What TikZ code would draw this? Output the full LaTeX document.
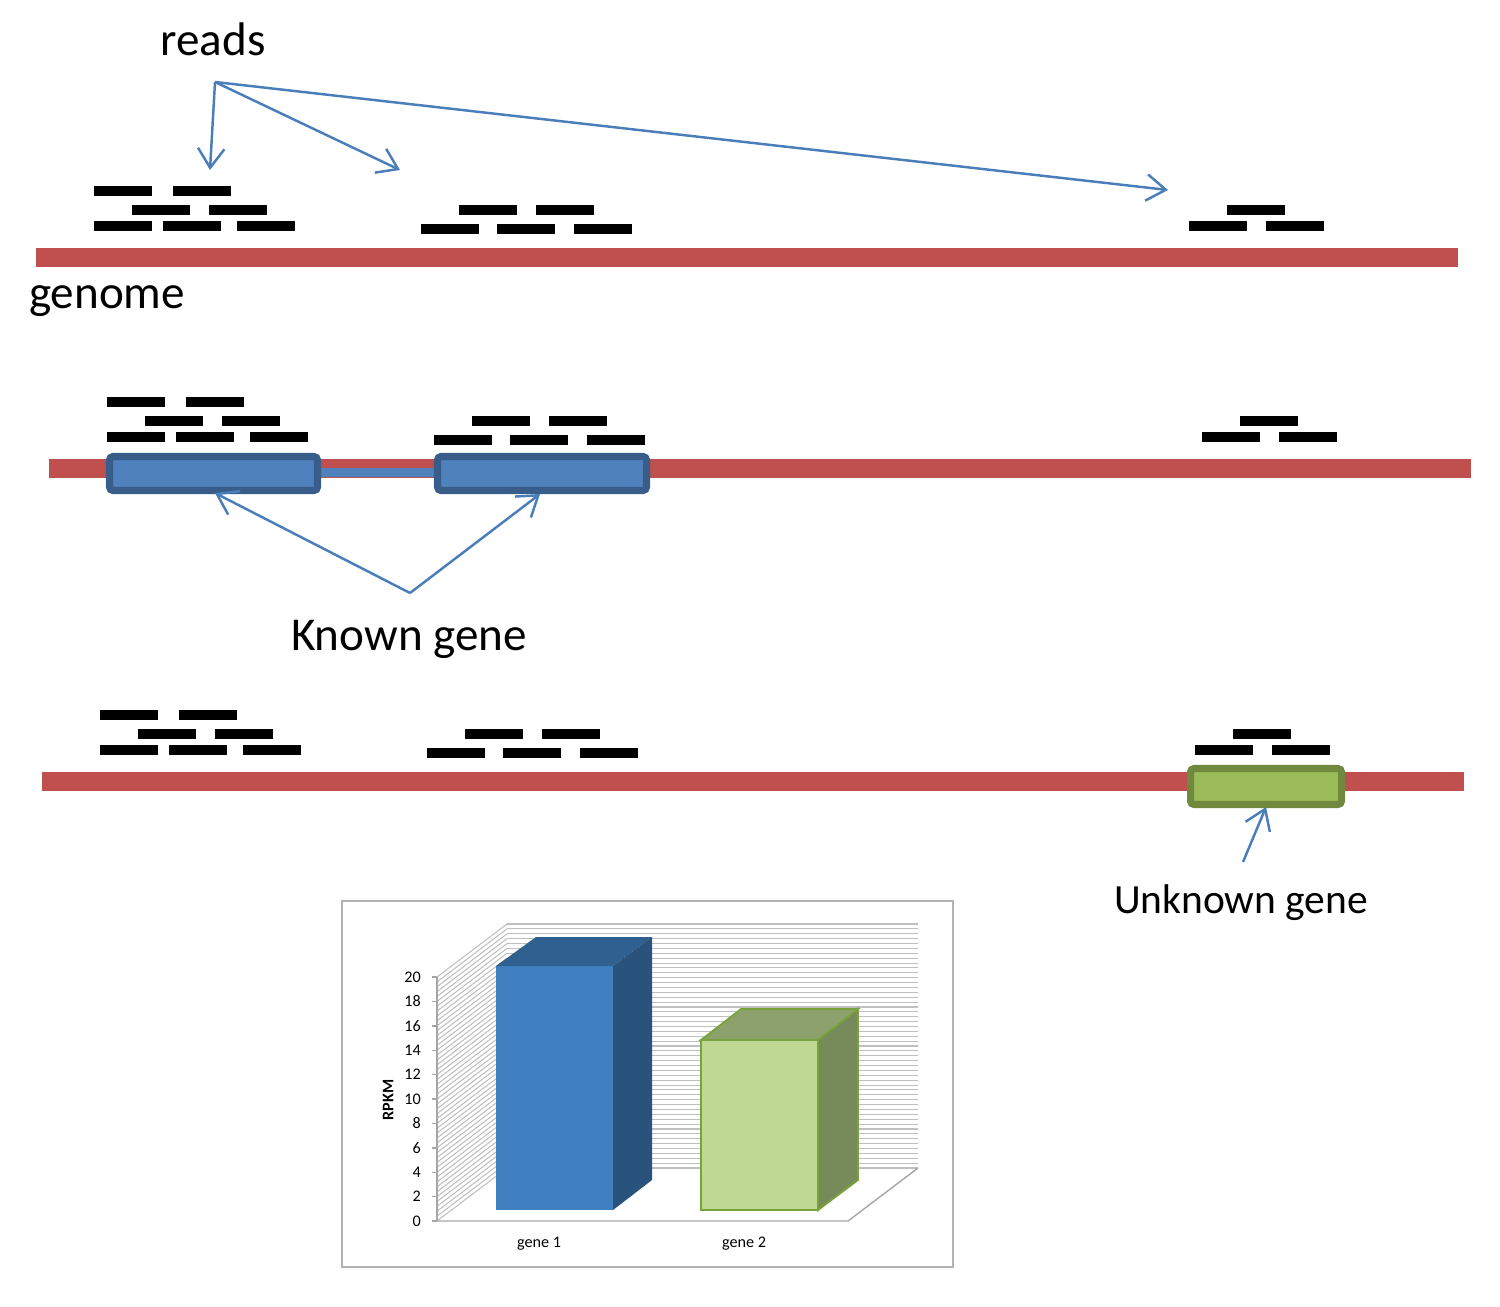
\documentclass[tikz,border=0pt]{standalone}
\usepackage{fontspec}
\setmainfont{Carlito}
\usetikzlibrary{arrows.meta}
\definecolor{genomered}{HTML}{C0504D}
\definecolor{exonblue}{HTML}{4F81BD}
\definecolor{exonedge}{HTML}{385D8A}
\definecolor{novelgreen}{HTML}{9BBB59}
\definecolor{noveledge}{HTML}{71893F}
\definecolor{pointerblue}{HTML}{4A7EBB}
\definecolor{barfront}{HTML}{4080C1}
\definecolor{bartop}{HTML}{30608F}
\definecolor{barside}{HTML}{29537D}
\definecolor{limefront}{HTML}{BFD894}
\definecolor{limetop}{HTML}{8CA16C}
\definecolor{limeside}{HTML}{778B5A}
\definecolor{limeedge}{HTML}{7AA23C}
\tikzset{ %all coordinates in pixels of the sketch
  {read/.style} ={fill=black},
  {genome/.style} ={fill=genomered},
  {exon/.style} ={draw=exonedge,fill=exonblue,line width=2pt,rounded corners=1pt},
  {novel/.style} ={exon,draw=noveledge,fill=novelgreen},
  {pointer/.style} ={draw=pointerblue,line width=0.7pt,->},
  {bigtext/.style} ={font=\fontsize{13.4}{16}\selectfont,anchor=base,inner sep=0},
  {midtext/.style} ={bigtext,font=\fontsize{11.8}{14}\selectfont},
  {smalltext/.style} ={font=\fontsize{4.6}{5}\selectfont,inner sep=1pt},
  {gridline/.style} ={draw=gray!50,line width=0.3pt},
  {axisline/.style} ={draw=gray!70,line width=0.4pt},
  >={Straight Barb[length=5.5pt,width=7.5pt]},
 }

\begin{document}
\begin{tikzpicture}[x=0.01cm,y=-0.01cm]
\useasboundingbox (0,0) rectangle (1500,1306);
% three copies of the same reads on the genome
\foreach \dx/\dy in {0/0,13/211,6/524}{
  \begin{scope}[shift={(\dx,\dy)}]
    \fill[genome] (36,248) rectangle (1458,267);
    \foreach \x/\y in {94/186,173/186,132/205,209/205,94/221,163/221,237/221,
                       459/205,536/205,421/224,497/224,574/224,
                       1227/205,1189/221,1266/221}
      \fill[read] (\x,\y) rectangle ++(58,10);
  \end{scope}
}
\node[bigtext] (reads) at (213,55) {reads};
\node[bigtext] (genome) at (107,308) {genome};
\coordinate (rd) at (215,82);
\coordinate (r1) at (210,170);
\coordinate (r2) at (400,170);
\coordinate (r3) at (1168,190);
\path (rd) edge[pointer] (r1) edge[pointer] (r2) edge[pointer] (r3);

% known gene
\fill[exonblue] (318,468) rectangle (437,477);
\draw[exon] (109.5,456.5) rectangle (317.5,490.5);
\draw[exon] (437.5,456.5) rectangle (646.5,490.5);
\node[bigtext] (known) at (409,650) {Known gene};
\coordinate (kn) at (410,593);
\coordinate (e1) at (215,493);
\coordinate (e2) at (540,494);
\path (kn) edge[pointer] (e1) edge[pointer] (e2);

% unknown gene
\draw[novel] (1190.5,768.5) rectangle (1341.5,804.5);
\node[midtext] (unknown) at (1241,913) {Unknown gene};
\coordinate (un) at (1243,862);
\coordinate (n1) at (1266,807);
\draw[pointer] (un) -- (n1);

% RPKM chart
\draw[draw=gray!60,line width=0.6pt] (342,901) rectangle (953,1267);
\foreach \k in {0,...,50}{
  \draw[gridline] (507,{1168-\k*4.88}) -- (918,{1168-\k*4.88});
  \draw[gridline] (437,{1221-\k*4.88}) -- ++(70,-53);
}
\draw[axisline] (437,1221) -- (848,1221) -- (918,1168);
\draw[axisline] (437,977) -- (437,1221);
\foreach \v in {0,2,...,20}{
  \draw[axisline] (432,{1221-\v*12.2}) -- (437,{1221-\v*12.2});
  \node[smalltext,anchor=east] (tk\v) at (425,{1221-\v*12.2}) {\v};
}
\node[smalltext,font=\fontsize{4.6}{5}\selectfont\bfseries,rotate=90] (rpkm) at (388,1100) {RPKM};
% bars
\fill[barfront] (496,966) rectangle (613,1210);
\fill[bartop] (496,966) -- (536,937) -- (652,937) -- (613,966) -- cycle;
\fill[barside] (613,966) -- (652,937) -- (652,1180) -- (613,1210) -- cycle;
\filldraw[fill=limefront,draw=limeedge,line width=0.5pt] (701,1040) rectangle (818,1210);
\filldraw[fill=limetop,draw=limeedge,line width=0.5pt] (701,1040) -- (741,1009) -- (858,1009) -- (818,1040) -- cycle;
\filldraw[fill=limeside,draw=limeedge,line width=0.5pt] (818,1040) -- (858,1009) -- (858,1180) -- (818,1210) -- cycle;
\node[smalltext] (g1) at (539,1244) {gene 1};
\node[smalltext] (g2) at (744,1244) {gene 2};
\end{tikzpicture}
\end{document}
